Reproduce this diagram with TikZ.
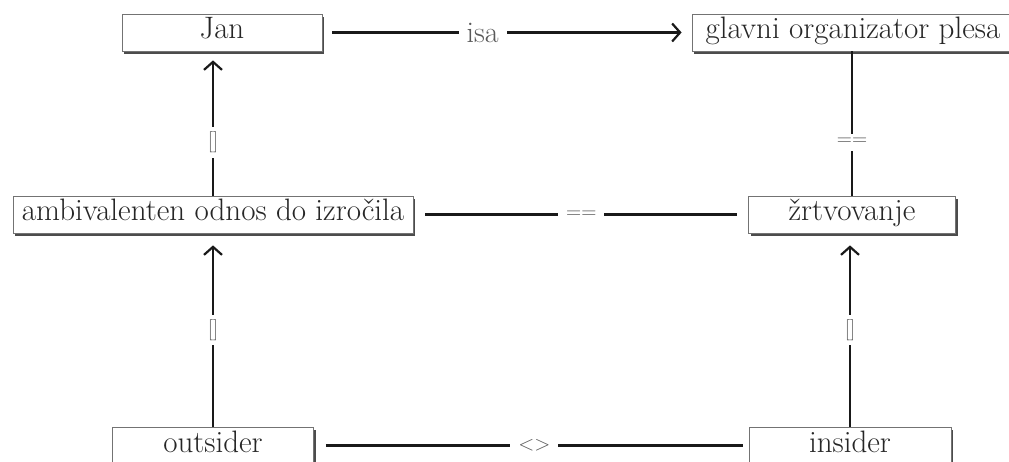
\documentclass[tikz,border=0pt]{standalone}
\usetikzlibrary{arrows.meta,shadows}
\begin{document}
\begin{tikzpicture}[x=1pt,y=-1pt,
  box/.style={draw=black!55, line width=0.8pt, fill=white, inner sep=0pt,
    minimum height=37pt, text height=21pt, text depth=8pt,
    font=\fontsize{31}{34}\selectfont, text=black!85,
    drop shadow={shadow xshift=2pt, shadow yshift=-3pt, fill=black!70, opacity=1}},
  conn/.style={line width=2.4pt, draw=black!90},
  arr/.style={conn, -{Straight Barb[length=8pt,width=18pt,line width=2.2pt]}},
  lab/.style={fill=white, text=black!65, inner xsep=8pt, inner ysep=5pt},
  bigl/.style={lab, font=\fontsize{30}{32}\selectfont},
  smalll/.style={lab, font=\fontsize{21}{24}\selectfont}
]
\useasboundingbox (0,0) rectangle (1009,462);
\clip (0,0) rectangle (1009,462);
\fill[white] (0,0) rectangle (1009,462);

\node[box, minimum width=200pt] (jan) at (222,32.5) {Jan};
\node[box, minimum width=322pt] (glavni) at (853,32.5) {glavni organizator plesa};
\node[box, minimum width=400pt] (amb) at (213,214.5) {ambivalenten odnos do izročila};
\node[box, minimum width=207pt] (zrt) at (852,214.5) {žrtvovanje};
\node[box, minimum width=201pt] (out) at (213,445.5) {outsider};
\node[box, minimum width=202pt] (ins) at (850,445.5) {insider};

\draw[arr] ([xshift=10pt]jan.east) -- node[bigl, pos=0.43] {isa} ([xshift=-10pt]glavni.west);
\draw[arr, shorten >=9pt] (amb.north) -- node[smalll, pos=0.37] {[]} (amb.north |- jan.south);
\draw[conn] (zrt.north) -- node[smalll, pos=0.37] {==} (zrt.north |- glavni.south);
\draw[conn] ([xshift=12pt]amb.east) -- node[smalll] {==} ([xshift=-11pt]zrt.west);
\draw[arr, shorten >=12pt] (out.north) -- node[smalll] {[]} (out.north |- amb.south);
\draw[arr, shorten >=12pt] (ins.north) -- node[smalll] {[]} (ins.north |- zrt.south);
\draw[conn] ([xshift=12pt]out.east) -- node[smalll] {<>} ([xshift=-6pt]ins.west);
\end{tikzpicture}
\end{document}
